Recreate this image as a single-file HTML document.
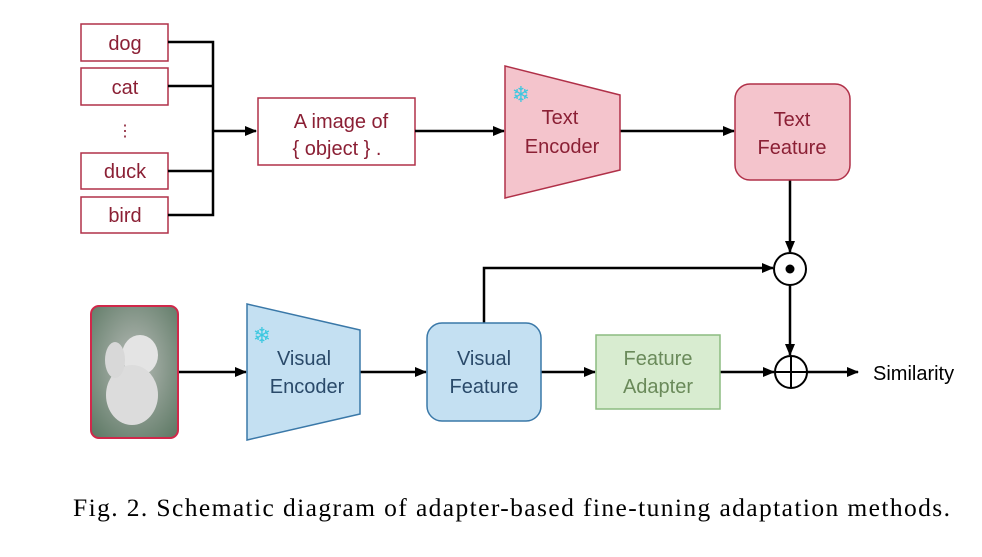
<!DOCTYPE html>
<html><head><meta charset="utf-8"><style>
html,body{margin:0;padding:0;background:#fff;}
svg{display:block;}
.lbl{font-family:"Liberation Sans",sans-serif;font-size:20px;fill:#8b2035;text-anchor:middle;}
.enc{font-family:"Liberation Sans",sans-serif;font-size:20px;text-anchor:middle;}
</style></head><body>
<svg width="982" height="557" viewBox="0 0 982 557" xmlns="http://www.w3.org/2000/svg">
<defs>
<marker id="ah" markerWidth="12" markerHeight="10" refX="11" refY="5" orient="auto" markerUnits="userSpaceOnUse">
<path d="M0,0 L12,5 L0,10 Z" fill="#000"/></marker>
<radialGradient id="bg" cx="50%" cy="45%" r="70%"><stop offset="0" stop-color="#b8bcb8"/><stop offset="1" stop-color="#5f7a66"/></radialGradient>
</defs>
<!-- label boxes -->
<g fill="#fff" stroke="#b03048" stroke-width="1.5">
<rect x="81" y="24" width="87" height="37"/>
<rect x="81" y="68" width="87" height="37"/>
<rect x="81" y="153" width="87" height="36"/>
<rect x="81" y="197" width="87" height="36"/>
<rect x="258" y="98" width="157" height="67"/>
</g>
<text class="lbl" x="125" y="50">dog</text>
<text class="lbl" x="125" y="94">cat</text>
<text class="lbl" x="125" y="136" style="font-size:16px">⋮</text>
<text class="lbl" x="125" y="178">duck</text>
<text class="lbl" x="125" y="222">bird</text>
<text class="lbl" x="341" y="128">A image of</text>
<text class="lbl" x="337" y="155">{ object } .</text>
<g stroke="#000" stroke-width="2.5" fill="none">
<path d="M168,42 H213 V215 H168 M168,86 H213 M168,171 H213"/>
<path d="M213,131 H256" marker-end="url(#ah)"/>
<path d="M415,131 H504" marker-end="url(#ah)"/>
<path d="M620,131 H734" marker-end="url(#ah)"/>
<path d="M790,180 V252" marker-end="url(#ah)"/>
<path d="M484,323 V268 H773" marker-end="url(#ah)"/>
<path d="M790,285 V355" marker-end="url(#ah)"/>
<path d="M178,372 H246" marker-end="url(#ah)"/>
<path d="M360,372 H426" marker-end="url(#ah)"/>
<path d="M541,372 H595" marker-end="url(#ah)"/>
<path d="M720,372 H774" marker-end="url(#ah)"/>
<path d="M806,372 H858" marker-end="url(#ah)"/>
</g>
<!-- text encoder -->
<path d="M505,66 L620,95 L620,170 L505,198 Z" fill="#f4c4cc" stroke="#b03048" stroke-width="1.5"/>
<text x="521" y="102" font-size="22" fill="#3cc8e0" font-family="DejaVu Sans,sans-serif" text-anchor="middle">❄</text>
<text class="enc" x="560" y="124" fill="#8b2035">Text</text>
<text class="enc" x="562" y="153" fill="#8b2035">Encoder</text>
<rect x="735" y="84" width="115" height="96" rx="15" fill="#f4c4cc" stroke="#b03048" stroke-width="1.5"/>
<text class="enc" x="792" y="126" fill="#8b2035">Text</text>
<text class="enc" x="792" y="154" fill="#8b2035">Feature</text>
<!-- circles -->
<circle cx="790" cy="269" r="16" fill="#fff" stroke="#000" stroke-width="2"/>
<circle cx="790" cy="269" r="4.5" fill="#000"/>
<circle cx="791" cy="372" r="16" fill="#fff" stroke="#000" stroke-width="2"/>
<path d="M775,372 H807 M791,356 V388" stroke="#000" stroke-width="2"/>
<!-- image -->
<rect x="91" y="306" width="87" height="132" rx="8" fill="url(#bg)" stroke="#d0284a" stroke-width="2"/>
<ellipse cx="140" cy="355" rx="18" ry="20" fill="#e4e4e4"/>
<ellipse cx="132" cy="395" rx="26" ry="30" fill="#dcdcdc"/>
<ellipse cx="115" cy="360" rx="10" ry="18" fill="#d8d8d8"/>
<!-- visual encoder -->
<path d="M247,304 L360,330 L360,414 L247,440 Z" fill="#c4e0f2" stroke="#3a78a8" stroke-width="1.5"/>
<text x="262" y="343" font-size="22" fill="#3cc8e0" font-family="DejaVu Sans,sans-serif" text-anchor="middle">❄</text>
<text class="enc" x="304" y="365" fill="#2a4a6a">Visual</text>
<text class="enc" x="307" y="393" fill="#2a4a6a">Encoder</text>
<rect x="427" y="323" width="114" height="98" rx="15" fill="#c4e0f2" stroke="#3a78a8" stroke-width="1.5"/>
<text class="enc" x="484" y="365" fill="#2a4a6a">Visual</text>
<text class="enc" x="484" y="393" fill="#2a4a6a">Feature</text>
<rect x="596" y="335" width="124" height="74" fill="#d8ecd0" stroke="#8cbc80" stroke-width="1.5"/>
<text class="enc" x="658" y="365" fill="#6a8a5a">Feature</text>
<text class="enc" x="658" y="393" fill="#6a8a5a">Adapter</text>
<text x="873" y="380" font-family="Liberation Sans,sans-serif" font-size="20" fill="#000">Similarity</text>
<text x="73" y="516" font-family="Liberation Serif,serif" font-size="25.5" fill="#000" textLength="877">Fig. 2.  Schematic diagram of adapter-based fine-tuning adaptation methods.</text>
</svg>
</body></html>
